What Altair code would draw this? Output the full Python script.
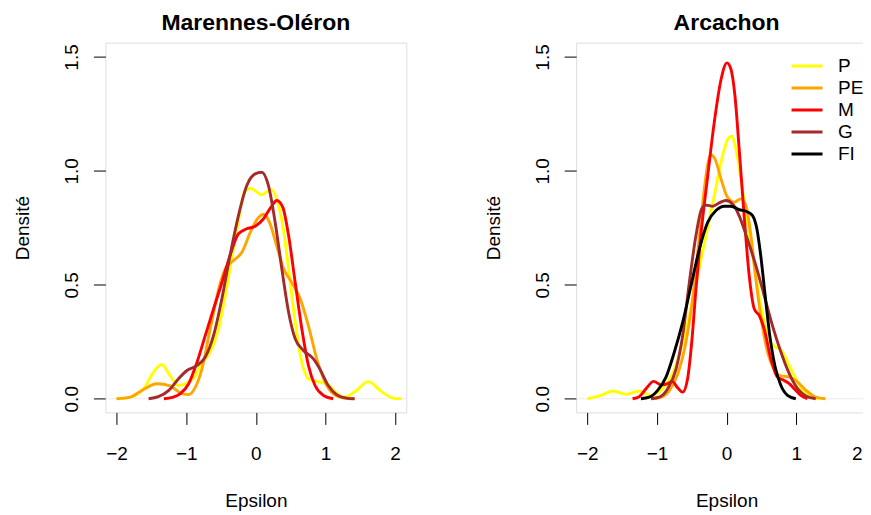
import altair as alt
import pandas as pd

FONT = "Liberation Sans"

series_names = ["P", "PE", "M", "G", "FI"]
series_colors = ["#FFFF00", "#FFA500", "#FF0000", "#A52A2A", "#000000"]

x_ticks = [-2, -1, 0, 1, 2]
y_ticks = [0.0, 0.5, 1.0, 1.5]

# ---- Marennes-Oléron ----
mo_P_x = [-2.0, -1.8, -1.61, -1.47, -1.35, -1.23, -1.11, -0.965, -0.87, -0.8, -0.655, -0.535, -0.44, -0.34, -0.24, -0.167, -0.08, 0.086, 0.215, 0.3, 0.387, 0.47, 0.565, 0.66, 0.755, 0.875, 1.02, 1.14, 1.26, 1.42, 1.615, 1.81, 1.97, 2.09]
mo_P_y = [0.0, 0.007, 0.044, 0.117, 0.15, 0.1, 0.058, 0.073, 0.1, 0.146, 0.205, 0.307, 0.453, 0.628, 0.8, 0.906, 0.924, 0.895, 0.918, 0.877, 0.76, 0.57, 0.336, 0.16, 0.088, 0.076, 0.066, 0.03, 0.007, 0.03, 0.075, 0.03, 0.003, 0.0]

mo_PE_x = [-2.0, -1.8, -1.66, -1.42, -1.23, -1.06, -0.965, -0.87, -0.775, -0.655, -0.535, -0.44, -0.32, -0.2, -0.08, 0.04, 0.12, 0.205, 0.3, 0.4, 0.516, 0.636, 0.755, 0.875, 0.994, 1.11, 1.26, 1.4]
mo_PE_y = [0.0, 0.007, 0.032, 0.066, 0.056, 0.022, 0.018, 0.05, 0.13, 0.307, 0.48, 0.57, 0.607, 0.643, 0.73, 0.797, 0.81, 0.767, 0.67, 0.57, 0.51, 0.44, 0.32, 0.175, 0.073, 0.022, 0.003, 0.0]

mo_M_x = [-1.32, -1.2, -1.085, -0.965, -0.845, -0.726, -0.607, -0.487, -0.37, -0.25, -0.13, -0.01, 0.11, 0.215, 0.3, 0.387, 0.47, 0.565, 0.66, 0.755, 0.85, 0.97, 1.11]
mo_M_y = [0.0, 0.006, 0.022, 0.066, 0.16, 0.278, 0.395, 0.51, 0.63, 0.724, 0.746, 0.757, 0.79, 0.84, 0.87, 0.84, 0.716, 0.51, 0.307, 0.146, 0.058, 0.015, 0.0]

mo_G_x = [-1.54, -1.4, -1.25, -1.11, -0.99, -0.845, -0.726, -0.607, -0.487, -0.37, -0.25, -0.13, -0.01, 0.086, 0.18, 0.277, 0.373, 0.47, 0.565, 0.683, 0.827, 0.92, 1.04, 1.16, 1.3, 1.42]
mo_G_y = [0.0, 0.009, 0.037, 0.088, 0.124, 0.146, 0.183, 0.278, 0.44, 0.63, 0.804, 0.936, 0.987, 0.994, 0.936, 0.775, 0.57, 0.38, 0.263, 0.212, 0.175, 0.13, 0.058, 0.018, 0.003, 0.0]

# ---- Arcachon ----
ar_P_x = [-2.0, -1.8, -1.63, -1.44, -1.25, -1.085, -0.92, -0.774, -0.655, -0.535, -0.416, -0.296, -0.177, -0.057, 0.024, 0.072, 0.134, 0.205, 0.3, 0.397, 0.49, 0.588, 0.683, 0.78, 0.9, 0.994, 1.11, 1.23, 1.33]
ar_P_y = [0.0, 0.015, 0.034, 0.019, 0.034, 0.015, 0.044, 0.11, 0.22, 0.365, 0.54, 0.716, 0.89, 1.067, 1.143, 1.152, 1.096, 0.965, 0.775, 0.585, 0.41, 0.278, 0.23, 0.215, 0.146, 0.088, 0.03, 0.007, 0.0]

ar_PE_x = [-1.06, -0.94, -0.82, -0.7, -0.583, -0.487, -0.39, -0.32, -0.263, -0.225, -0.167, -0.08, 0.014, 0.11, 0.205, 0.277, 0.35, 0.42, 0.49, 0.588, 0.683, 0.78, 0.9, 1.02, 1.14, 1.28, 1.42]
ar_PE_y = [0.0, 0.007, 0.037, 0.11, 0.25, 0.44, 0.716, 0.92, 1.04, 1.07, 1.053, 0.965, 0.884, 0.863, 0.877, 0.848, 0.716, 0.526, 0.365, 0.205, 0.13, 0.1, 0.095, 0.073, 0.037, 0.007, 0.0]

ar_M_x = [-1.35, -1.25, -1.157, -1.047, -0.94, -0.846, -0.784, -0.7, -0.63, -0.56, -0.5, -0.44, -0.37, -0.27, -0.177, -0.08, 0.005, 0.062, 0.12, 0.18, 0.253, 0.325, 0.397, 0.47, 0.54, 0.636, 0.73, 0.827, 0.9, 0.97, 1.066, 1.16]
ar_M_y = [0.0, 0.01, 0.044, 0.076, 0.061, 0.066, 0.076, 0.047, 0.029, 0.088, 0.25, 0.48, 0.716, 0.98, 1.213, 1.4, 1.474, 1.447, 1.33, 1.1, 0.8, 0.54, 0.395, 0.365, 0.307, 0.175, 0.095, 0.08, 0.066, 0.044, 0.015, 0.0]

ar_G_x = [-1.085, -0.965, -0.846, -0.726, -0.63, -0.535, -0.44, -0.358, -0.296, -0.2, -0.105, -0.01, 0.086, 0.18, 0.3, 0.42, 0.54, 0.66, 0.78, 0.9, 1.02, 1.14, 1.28]
ar_G_y = [0.0, 0.007, 0.044, 0.13, 0.278, 0.51, 0.716, 0.833, 0.85, 0.845, 0.86, 0.87, 0.855, 0.804, 0.7, 0.585, 0.453, 0.32, 0.205, 0.11, 0.044, 0.012, 0.0]

ar_FI_x = [-1.23, -1.11, -0.99, -0.87, -0.75, -0.63, -0.51, -0.39, -0.27, -0.153, -0.033, 0.062, 0.18, 0.3, 0.373, 0.435, 0.49, 0.554, 0.62, 0.693, 0.78, 0.875, 0.994]
ar_FI_y = [0.0, 0.007, 0.037, 0.095, 0.205, 0.336, 0.497, 0.658, 0.775, 0.826, 0.845, 0.845, 0.83, 0.82, 0.804, 0.746, 0.63, 0.453, 0.278, 0.146, 0.058, 0.015, 0.0]

mo_curves = [("P", mo_P_x, mo_P_y), ("PE", mo_PE_x, mo_PE_y),
             ("M", mo_M_x, mo_M_y), ("G", mo_G_x, mo_G_y)]
ar_curves = [("P", ar_P_x, ar_P_y), ("PE", ar_PE_x, ar_PE_y),
             ("M", ar_M_x, ar_M_y), ("G", ar_G_x, ar_G_y),
             ("FI", ar_FI_x, ar_FI_y)]

x_scale = alt.Scale(domain=[-2.16, 2.16], nice=False, zero=False)
y_scale = alt.Scale(domain=[-0.06, 1.563], nice=False, zero=False)
c_scale = alt.Scale(domain=series_names, range=series_colors)


def x_axis(last_label_shift=0):
    return alt.Axis(values=x_ticks, format="d", title="Epsilon", grid=False, domain=False,
                    tickSize=12, tickColor="black", tickWidth=1,
                    labelFontSize=19, labelFont=FONT, labelColor="black", labelPadding=20,
                    labelFlush=False, labelOverlap=False, labelBaseline="top",
                    labelOffset={"condition": {"test": "datum.value === 2",
                                               "value": last_label_shift}, "value": 0},
                    titleFontSize=19, titleFont=FONT, titleFontWeight="normal",
                    titleColor="black", titlePadding=28)


y_axis = alt.Axis(values=y_ticks, format=".1f", title="Densité", grid=False, domain=False,
                  tickSize=12, tickColor="black", tickWidth=1,
                  labelFontSize=19, labelFont=FONT, labelColor="black", labelPadding=12,
                  labelAngle=270, labelAlign="center", labelBaseline="bottom",
                  labelFlush=False, labelOverlap=False,
                  titleFontSize=19, titleFont=FONT, titleFontWeight="normal",
                  titleColor="black", titlePadding=29.5)

legend_def = alt.Legend(title=None, orient="none", legendX=214, legendY=12.5,
                        direction="vertical", symbolType="stroke", symbolStrokeWidth=3,
                        symbolSize=961, labelFontSize=19, labelFont=FONT,
                        labelColor="black", labelOffset=14, padding=0,
                        clipHeight=22, rowPadding=0)


def make_panel(title, curves, legend, xaxis):
    zero_df = pd.DataFrame({"y": [0.0]})
    layers = [
        alt.Chart(zero_df).mark_rule(color="#ebebeb", strokeWidth=1).encode(
            y=alt.Y("y:Q", scale=y_scale, axis=y_axis)
        )
    ]
    for name, xs, ys in curves:
        df = pd.DataFrame({"x": xs, "y": ys, "serie": [name] * len(xs)})
        layers.append(
            alt.Chart(df).mark_line(interpolate="monotone", strokeWidth=2.9, clip=True).encode(
                x=alt.X("x:Q", scale=x_scale, axis=xaxis),
                y=alt.Y("y:Q", scale=y_scale, axis=y_axis),
                color=alt.Color("serie:N", scale=c_scale, legend=legend),
            )
        )
    return alt.layer(*layers).properties(
        width=301, height=370,
        title=alt.TitleParams(title, fontSize=23, fontWeight="bold", font=FONT,
                              anchor="middle", offset=-10, baseline="alphabetic",
                              color="black"),
    )


left = make_panel("Marennes-Oléron", mo_curves, None, x_axis(0))
right = make_panel("Arcachon", ar_curves, legend_def, x_axis(-9))

chart = (
    alt.hconcat(left, right, spacing=170, bounds="flush")
    .resolve_legend(color="independent")
    .properties(padding={"left": 5.5, "top": 2.5, "right": -15, "bottom": 0})
    .configure_view(stroke="black", strokeWidth=1)
    .configure(font=FONT)
)

chart.save("out.html", embed_options={"renderer": "svg", "actions": False})
